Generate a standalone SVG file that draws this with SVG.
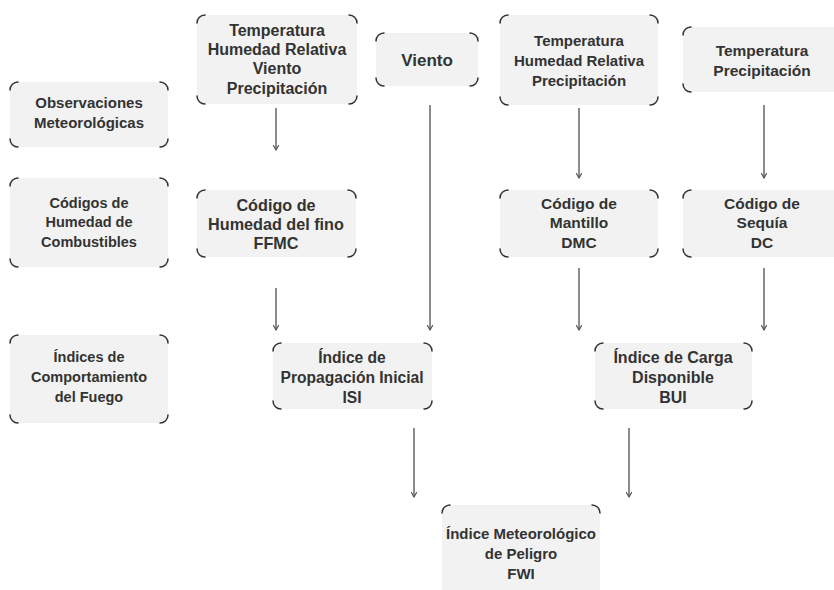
<svg xmlns="http://www.w3.org/2000/svg" width="834" height="590" viewBox="0 0 834 590">
<defs>
<style>
.bg{fill:#f2f2f2}
.cn{fill:none;stroke:#333;stroke-width:1.5;stroke-linecap:round}
.t{font-family:"Liberation Sans",Arial,sans-serif;font-weight:bold;font-size:15px;fill:#333;text-anchor:middle;dominant-baseline:central}
.ln{fill:none;stroke:#666;stroke-width:1.5;marker-end:url(#ah)}
</style>
<marker id="ah" viewBox="0 0 10 10" refX="9" refY="5" markerWidth="7" markerHeight="7" orient="auto" markerUnits="userSpaceOnUse">
<path d="M2,1 L9,5 L2,9" fill="none" stroke="#555" stroke-width="1.6"/>
</marker>
</defs>
<rect width="834" height="590" fill="#fff"/>

<g id="obs">
<rect class="bg" x="10" y="82" width="158" height="65" rx="8"/>
<path class="cn" d="M10,90 A8,8 0 0 1 18,82 M160,82 A8,8 0 0 1 168,90 M168,139 A8,8 0 0 1 160,147 M18,147 A8,8 0 0 1 10,139"/>
<text class="t" x="89" y="102">Observaciones</text>
<text class="t" x="89" y="122">Meteorológicas</text>
</g>

<g id="in1">
<rect class="bg" x="197" y="15" width="160" height="89" rx="8"/>
<path class="cn" d="M197,23 A8,8 0 0 1 205,15 M349,15 A8,8 0 0 1 357,23 M357,96 A8,8 0 0 1 349,104 M205,104 A8,8 0 0 1 197,96"/>
<text class="t" style="font-size:16px" x="277" y="30">Temperatura</text>
<text class="t" style="font-size:16px" x="277" y="49">Humedad Relativa</text>
<text class="t" style="font-size:16px" x="277" y="68">Viento</text>
<text class="t" style="font-size:16px" x="277" y="88">Precipitación</text>
</g>

<g id="viento">
<rect class="bg" x="376" y="33" width="102" height="53" rx="8"/>
<path class="cn" d="M376,41 A8,8 0 0 1 384,33 M470,33 A8,8 0 0 1 478,41 M478,78 A8,8 0 0 1 470,86 M384,86 A8,8 0 0 1 376,78"/>
<text class="t" style="font-size:17px" x="427" y="60">Viento</text>
</g>

<g id="in2">
<rect class="bg" x="500" y="15" width="158" height="90" rx="8"/>
<path class="cn" d="M500,23 A8,8 0 0 1 508,15 M650,15 A8,8 0 0 1 658,23 M658,97 A8,8 0 0 1 650,105 M508,105 A8,8 0 0 1 500,97"/>
<text class="t" x="579" y="40">Temperatura</text>
<text class="t" x="579" y="60">Humedad Relativa</text>
<text class="t" x="579" y="80">Precipitación</text>
</g>

<g id="in3">
<rect class="bg" x="683" y="27" width="160" height="65" rx="8"/>
<path class="cn" d="M683,35 A8,8 0 0 1 691,27 M691,92 A8,8 0 0 1 683,84"/>
<text class="t" style="font-size:15.5px" x="762" y="50">Temperatura</text>
<text class="t" style="font-size:15.5px" x="762" y="70">Precipitación</text>
</g>

<g id="codigos">
<rect class="bg" x="10" y="178" width="158" height="89" rx="8"/>
<path class="cn" d="M10,186 A8,8 0 0 1 18,178 M160,178 A8,8 0 0 1 168,186 M168,259 A8,8 0 0 1 160,267 M18,267 A8,8 0 0 1 10,259"/>
<text class="t" style="font-size:14.5px" x="89" y="203">Códigos de</text>
<text class="t" style="font-size:14.5px" x="89" y="222">Humedad de</text>
<text class="t" style="font-size:14.5px" x="89" y="242">Combustibles</text>
</g>

<g id="ffmc">
<rect class="bg" x="197" y="190" width="159" height="67" rx="8"/>
<path class="cn" d="M197,198 A8,8 0 0 1 205,190 M348,190 A8,8 0 0 1 356,198 M356,249 A8,8 0 0 1 348,257 M205,257 A8,8 0 0 1 197,249"/>
<text class="t" style="font-size:16.2px" x="276" y="205">Código de</text>
<text class="t" style="font-size:16.2px" x="276" y="224">Humedad del fino</text>
<text class="t" style="font-size:16.2px" x="276" y="243">FFMC</text>
</g>

<g id="dmc">
<rect class="bg" x="500" y="190" width="158" height="67" rx="8"/>
<path class="cn" d="M500,198 A8,8 0 0 1 508,190 M650,190 A8,8 0 0 1 658,198 M658,249 A8,8 0 0 1 650,257 M508,257 A8,8 0 0 1 500,249"/>
<text class="t" style="font-size:15.5px" x="579" y="203">Código de</text>
<text class="t" style="font-size:15.5px" x="579" y="222">Mantillo</text>
<text class="t" style="font-size:15.5px" x="579" y="242">DMC</text>
</g>

<g id="dc">
<rect class="bg" x="683" y="190" width="160" height="67" rx="8"/>
<path class="cn" d="M683,198 A8,8 0 0 1 691,190 M691,257 A8,8 0 0 1 683,249"/>
<text class="t" style="font-size:15.5px" x="762" y="203">Código de</text>
<text class="t" style="font-size:15.5px" x="762" y="222">Sequía</text>
<text class="t" style="font-size:15.5px" x="762" y="242">DC</text>
</g>

<g id="indices">
<rect class="bg" x="10" y="335" width="158" height="88" rx="8"/>
<path class="cn" d="M10,343 A8,8 0 0 1 18,335 M160,335 A8,8 0 0 1 168,343 M168,415 A8,8 0 0 1 160,423 M18,423 A8,8 0 0 1 10,415"/>
<text class="t" style="font-size:14.5px" x="89" y="357">Índices de</text>
<text class="t" style="font-size:14.5px" x="89" y="377">Comportamiento</text>
<text class="t" style="font-size:14.5px" x="89" y="397">del Fuego</text>
</g>

<g id="isi">
<rect class="bg" x="273" y="343" width="159" height="66" rx="8"/>
<path class="cn" d="M273,351 A8,8 0 0 1 281,343 M424,343 A8,8 0 0 1 432,351 M432,401 A8,8 0 0 1 424,409 M281,409 A8,8 0 0 1 273,401"/>
<text class="t" style="font-size:15.6px" x="352" y="357">Índice de</text>
<text class="t" style="font-size:15.6px" x="352" y="377">Propagación Inicial</text>
<text class="t" style="font-size:15.6px" x="352" y="397">ISI</text>
</g>

<g id="bui">
<rect class="bg" x="595" y="343" width="157" height="66" rx="8"/>
<path class="cn" d="M595,351 A8,8 0 0 1 603,343 M744,343 A8,8 0 0 1 752,351 M752,401 A8,8 0 0 1 744,409 M603,409 A8,8 0 0 1 595,401"/>
<text class="t" style="font-size:16px" x="673" y="357">Índice de Carga</text>
<text class="t" style="font-size:16px" x="673" y="377">Disponible</text>
<text class="t" style="font-size:16px" x="673" y="397">BUI</text>
</g>

<g id="fwi">
<rect class="bg" x="442" y="505" width="158" height="90" rx="8"/>
<path class="cn" d="M442,513 A8,8 0 0 1 450,505 M592,505 A8,8 0 0 1 600,513"/>
<text class="t" x="521" y="533">Índice Meteorológico</text>
<text class="t" x="521" y="553">de Peligro</text>
<text class="t" x="521" y="573">FWI</text>
</g>

<g id="connectors">
<line class="ln" x1="276" y1="108" x2="276" y2="150"/>
<line class="ln" x1="276" y1="288" x2="276" y2="330"/>
<line class="ln" x1="430" y1="105" x2="430" y2="330"/>
<line class="ln" x1="579" y1="108" x2="579" y2="178"/>
<line class="ln" x1="764" y1="105" x2="764" y2="178"/>
<line class="ln" x1="579" y1="268" x2="579" y2="330"/>
<line class="ln" x1="764" y1="268" x2="764" y2="330"/>
<line class="ln" x1="414" y1="428" x2="414" y2="497"/>
<line class="ln" x1="629" y1="428" x2="629" y2="497"/>
</g>
</svg>
